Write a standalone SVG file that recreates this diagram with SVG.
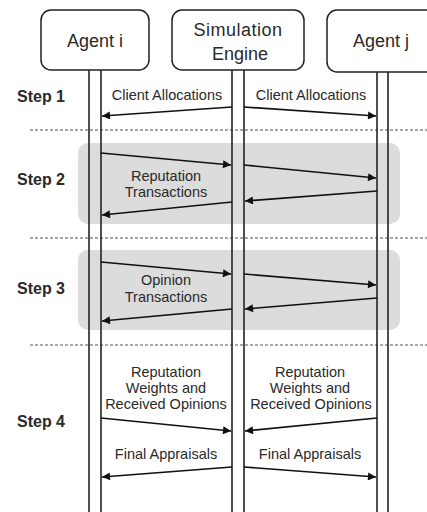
<svg xmlns="http://www.w3.org/2000/svg" width="427" height="512" viewBox="0 0 427 512">
<defs>
<marker id="ah" viewBox="0 0 10 10" refX="10" refY="5" markerWidth="9" markerHeight="8" markerUnits="userSpaceOnUse" orient="auto">
<path d="M0,0 L10,5 L0,10 z" fill="#111"/>
</marker>
<style>
.box{fill:#fff;stroke:#222;stroke-width:1.5}
.life{stroke:#222;stroke-width:1.6}
.band{fill:#dcdcdc}
.dash{stroke:#555;stroke-width:1.2;stroke-dasharray:3,2}
.arr{stroke:#111;stroke-width:1.7;fill:none;marker-end:url(#ah)}
.t{font-family:"Liberation Sans",Arial,sans-serif;fill:#2a2a2a;text-anchor:middle}
.node{font-size:18px}
.step{font-size:16px;font-weight:bold;text-anchor:start}
.lbl{font-size:14.5px}
</style>
</defs>
<rect width="427" height="512" fill="#fff"/>
<g id="bands">
<rect class="band" x="78" y="143" width="322" height="81" rx="10"/>
<rect class="band" x="78" y="250" width="322" height="80" rx="10"/>
</g>
<g id="separators">
<line class="dash" x1="30" y1="130" x2="427" y2="130"/>
<line class="dash" x1="30" y1="238" x2="427" y2="238"/>
<line class="dash" x1="30" y1="345" x2="427" y2="345"/>
</g>
<g id="agent-i">
<line class="life" x1="89" y1="70" x2="89" y2="512"/>
<line class="life" x1="101" y1="70" x2="101" y2="512"/>
<rect class="box" x="41" y="10" width="108" height="60" rx="10"/>
<text class="t node" x="95" y="47">Agent i</text>
</g>
<g id="engine">
<line class="life" x1="232" y1="70" x2="232" y2="512"/>
<line class="life" x1="244" y1="70" x2="244" y2="512"/>
<rect class="box" x="172" y="10" width="132" height="60" rx="10"/>
<text class="t node" x="238" y="36" letter-spacing="0.5">Simulation</text>
<text class="t node" x="240" y="60">Engine</text>
</g>
<g id="agent-j">
<line class="life" x1="377" y1="72" x2="377" y2="512"/>
<line class="life" x1="388" y1="72" x2="388" y2="512"/>
<rect class="box" x="327" y="10" width="110" height="62" rx="10"/>
<text class="t node" x="381" y="47">Agent j</text>
</g>
<g id="steps">
<text class="t step" x="17" y="102">Step 1</text>
<text class="t step" x="17" y="185">Step 2</text>
<text class="t step" x="17" y="294">Step 3</text>
<text class="t step" x="17" y="427">Step 4</text>
</g>
<g id="connectors">
<path class="arr" d="M232,107 L102,116"/>
<path class="arr" d="M244,107 L376,116"/>
<path class="arr" d="M101,153 L231,165"/>
<path class="arr" d="M244,165 L376,178"/>
<path class="arr" d="M377,191 L245,201"/>
<path class="arr" d="M232,202 L102,215"/>
<path class="arr" d="M101,262 L231,274"/>
<path class="arr" d="M244,274 L376,285"/>
<path class="arr" d="M377,298 L245,309"/>
<path class="arr" d="M232,309 L102,321"/>
<path class="arr" d="M101,418 L231,431"/>
<path class="arr" d="M377,418 L245,431"/>
<path class="arr" d="M232,467 L102,477"/>
<path class="arr" d="M244,467 L376,477"/>
</g>
<g id="labels">
<text class="t lbl" x="167" y="100">Client Allocations</text>
<text class="t lbl" x="311" y="100">Client Allocations</text>
<text class="t lbl" x="166" y="181">Reputation</text>
<text class="t lbl" x="166" y="197">Transactions</text>
<text class="t lbl" x="166" y="285">Opinion</text>
<text class="t lbl" x="166" y="302">Transactions</text>
<text class="t lbl" x="166" y="377">Reputation</text>
<text class="t lbl" x="166" y="393">Weights and</text>
<text class="t lbl" x="166" y="409">Received Opinions</text>
<text class="t lbl" x="310" y="377">Reputation</text>
<text class="t lbl" x="310" y="393">Weights and</text>
<text class="t lbl" x="311" y="409">Received Opinions</text>
<text class="t lbl" x="166" y="459">Final Appraisals</text>
<text class="t lbl" x="310" y="459">Final Appraisals</text>
</g>
</svg>
